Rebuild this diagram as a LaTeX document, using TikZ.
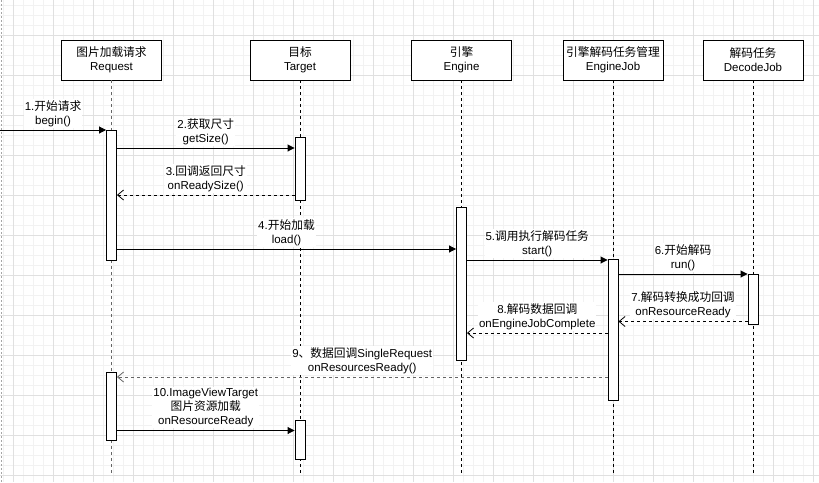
\documentclass[tikz,border=0pt]{standalone}
\usepackage{fontspec}
\setmainfont{Liberation Sans}
\newfontfamily\cjk{Noto Sans CJK SC}[Scale=1.02]
\newcommand{\zh}[1]{{\cjk #1}}
\usetikzlibrary{arrows.meta}
\definecolor{gminor}{HTML}{F2F2F2}
\definecolor{gmajor}{HTML}{E0E0E0}
\begin{document}
\begin{tikzpicture}[x=1pt,y=-1pt,
 every node/.style={font=\fontsize{11.5}{14}\selectfont},
 obj/.style={draw,line width=0.9pt,minimum width=100pt,minimum height=40pt,align=center,inner sep=0pt,fill=white},
 act/.style={draw,line width=0.9pt,fill=white,minimum width=10pt,inner sep=0pt},
 life/.style={dash pattern=on 3pt off 3pt,line width=0.8pt},
 msg/.style={-{Triangle[length=7pt,width=7pt]},line width=0.9pt},
 ret/.style={-{Straight Barb[length=6pt,width=10pt]},dash pattern=on 3pt off 3pt,line width=0.8pt},
 lbl/.style={fill=white,inner sep=1pt,align=center,anchor=south,yshift=2pt}]
\useasboundingbox (0,0) rectangle (819,482);
\fill[white] (0,0) rectangle (819,482);
% grid
\foreach \x in {3,13,...,813} \draw[gminor,line width=0.6pt] (\x,0) -- (\x,482);
\foreach \y in {5,15,...,475} \draw[gminor,line width=0.6pt] (0,\y) -- (819,\y);
\foreach \x in {13,53,...,813} \draw[gmajor,line width=0.8pt] (\x,0) -- (\x,482);
\foreach \y in {35,75,...,475} \draw[gmajor,line width=0.8pt] (0,\y) -- (819,\y);
\draw[gray!70,dash pattern=on 2pt off 2pt,line width=0.8pt] (1,0) -- (1,482);
% objects
\node[obj] (req) at (111.5,60) {\zh{图片加载请求}\\Request};
\node[obj] (tgt) at (300,60) {\zh{目标}\\Target};
\node[obj] (eng) at (461.5,60) {\zh{引擎}\\Engine};
\node[obj] (job) at (613,60) {\zh{引擎解码任务管理}\\EngineJob};
\node[obj] (dec) at (753,60) {\zh{解码任务}\\DecodeJob};
% lifelines
\coordinate (reqE) at (111.5,473);
\coordinate (tgtE) at (300,473);
\coordinate (engE) at (461.5,473);
\coordinate (jobE) at (613,473);
\coordinate (decE) at (753,473);
\draw[life,gray!80!black,line width=1.2pt] (req.south) -- (reqE);
\draw[life] (tgt.south) -- (tgtE);
\draw[life] (eng.south) -- (engE);
\draw[life] (job.south) -- (jobE);
\draw[life] (dec.south) -- (decE);
% activations
\node[act,minimum height=130pt] (r1) at (111.5,195) {};
\node[act,minimum height=68pt] (r2) at (111.5,406) {};
\node[act,minimum height=63pt] (t1) at (300,168.5) {};
\node[act,minimum height=39pt] (t2) at (300,439.5) {};
\node[act,minimum height=153pt] (e1) at (461.5,283.5) {};
\node[act,minimum height=141pt] (j1) at (613,329.5) {};
\node[act,minimum height=50pt] (d1) at (753,299) {};
% messages
\coordinate (start) at (0,130);
\draw[msg] (start) -- node[lbl]{1.\zh{开始请求}\\begin()} (r1.west |- 0,130);
\draw[msg] (r1.east |- 0,148) -- node[lbl]{2.\zh{获取尺寸}\\getSize()} (t1.west |- 0,148);
\draw[ret] (t1.west |- 0,195) -- node[lbl]{3.\zh{回调返回尺寸}\\onReadySize()} (r1.east |- 0,195);
\draw[msg] (r1.east |- 0,249) -- node[lbl]{4.\zh{开始加载}\\load()} (e1.west |- 0,249);
\draw[msg] (e1.east |- 0,260) -- node[lbl]{5.\zh{调用执行解码任务}\\start()} (j1.west |- 0,260);
\draw[msg] (j1.east |- 0,274) -- node[lbl]{6.\zh{开始解码}\\run()} (d1.west |- 0,274);
\draw[ret] (d1.west |- 0,321.5) -- node[lbl]{7.\zh{解码转换成功回调}\\onResourceReady} (j1.east |- 0,321.5);
\draw[ret] (j1.west |- 0,333) -- node[lbl]{8.\zh{解码数据回调}\\onEngineJobComplete} (e1.east |- 0,333);
\draw[ret,gray!80!black] (j1.west |- 0,377) -- node[lbl,text=black]{9\zh{、数据回调}SingleRequest\\onResourcesReady()} (r2.east |- 0,377);
\draw[msg] (r2.east |- 0,430.5) -- node[lbl]{10.ImageViewTarget\\\zh{图片资源加载}\\onResourceReady} (t2.west |- 0,430.5);
\end{tikzpicture}
\end{document}
